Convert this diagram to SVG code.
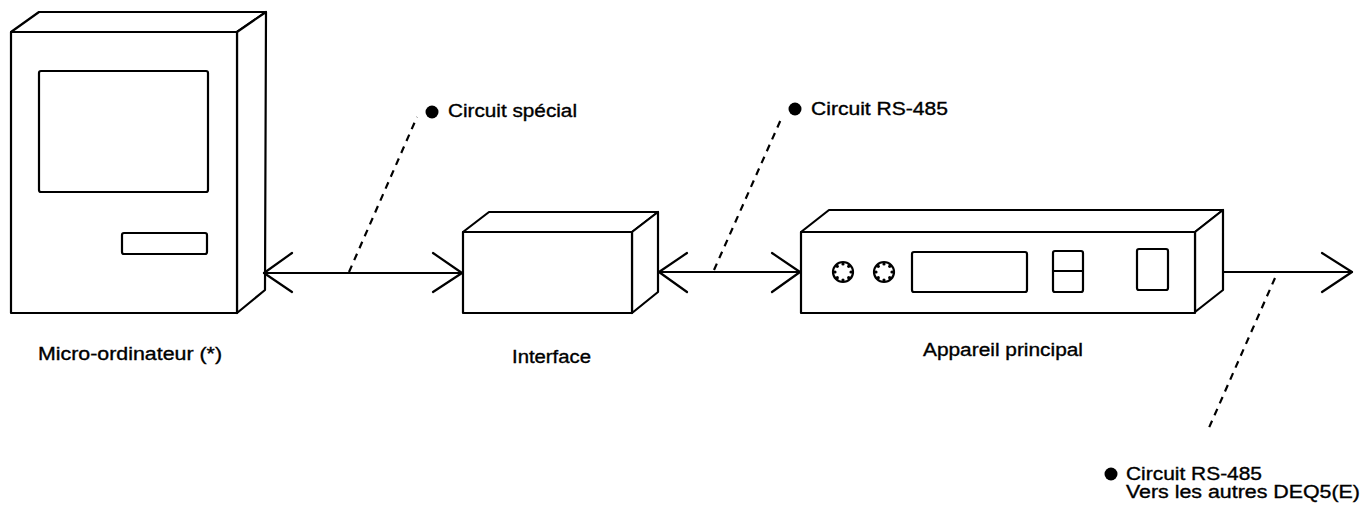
<svg xmlns="http://www.w3.org/2000/svg" width="1365" height="508" viewBox="0 0 1365 508">
  <style>
    .ln { fill: none; stroke: #000; stroke-width: 2.2; stroke-linejoin: round; stroke-linecap: round; }
    .face { fill: #fff; stroke: #000; stroke-width: 2.2; stroke-linejoin: round; }
    .dash { fill: none; stroke: #000; stroke-width: 2.2; stroke-dasharray: 7 6; }
    .lbl { font-family: "Liberation Sans", Arial, sans-serif; font-size: 18px; fill: #000; stroke: #000; stroke-width: 0.35; }
    .dot { fill: #000; }
  </style>
  <rect width="1365" height="508" fill="#fff"/>

  <!-- Micro-computer -->
  <g id="micro-ordinateur">
    <polygon class="face" points="11,32 39,12 266,12 237,32"/>
    <polygon class="face" points="237,32 266,12 265,290 237,313"/>
    <rect class="face" x="11" y="32" width="226" height="281"/>
    <rect class="face" x="39" y="71" width="169" height="121" rx="2"/>
    <rect class="face" x="122" y="233" width="85" height="21" rx="2"/>
    <text class="lbl" x="38" y="360" textLength="184" lengthAdjust="spacingAndGlyphs">Micro-ordinateur (*)</text>
  </g>

  <!-- Interface box -->
  <g id="interface">
    <polygon class="face" points="463,232 489,212 658,212 632,232"/>
    <polygon class="face" points="632,232 658,212 658,292 632,313"/>
    <rect class="face" x="463" y="232" width="169" height="81"/>
    <text class="lbl" x="512" y="363" textLength="79" lengthAdjust="spacingAndGlyphs">Interface</text>
  </g>

  <!-- Main unit -->
  <g id="appareil-principal">
    <polygon class="face" points="801,232 829,210 1223,210 1195,232"/>
    <polygon class="face" points="1195,232 1223,210 1223,290 1195,312"/>
    <rect class="face" x="801" y="232" width="394" height="81"/>
    <g id="knob-1">
      <circle class="face" cx="843" cy="272" r="10" stroke-width="2.5"/>
      <g class="dot">
        <circle cx="851" cy="272" r="1.6"/><circle cx="848.7" cy="277.7" r="1.6"/>
        <circle cx="843" cy="280" r="1.6"/><circle cx="837.3" cy="277.7" r="1.6"/>
        <circle cx="835" cy="272" r="1.6"/><circle cx="837.3" cy="266.3" r="1.6"/>
        <circle cx="843" cy="264" r="1.6"/><circle cx="848.7" cy="266.3" r="1.6"/>
      </g>
    </g>
    <g id="knob-2">
      <circle class="face" cx="884" cy="272" r="10" stroke-width="2.5"/>
      <g class="dot">
        <circle cx="892" cy="272" r="1.6"/><circle cx="889.7" cy="277.7" r="1.6"/>
        <circle cx="884" cy="280" r="1.6"/><circle cx="878.3" cy="277.7" r="1.6"/>
        <circle cx="876" cy="272" r="1.6"/><circle cx="878.3" cy="266.3" r="1.6"/>
        <circle cx="884" cy="264" r="1.6"/><circle cx="889.7" cy="266.3" r="1.6"/>
      </g>
    </g>
    <rect class="face" x="912" y="252" width="115" height="40" rx="2"/>
    <rect class="face" x="1053" y="251" width="30" height="41" rx="2"/>
    <line class="ln" x1="1053" y1="271" x2="1083" y2="271"/>
    <rect class="face" x="1137" y="249" width="31" height="41" rx="2"/>
    <text class="lbl" x="923" y="356" textLength="160" lengthAdjust="spacingAndGlyphs">Appareil principal</text>
  </g>

  <!-- Links between the units -->
  <g id="connectors">
    <line class="ln" x1="264" y1="273" x2="462" y2="273"/>
    <polyline class="ln" points="292,253 264,273 292,292"/>
    <polyline class="ln" points="433,253 462,273 433,292"/>

    <line class="ln" x1="659" y1="272" x2="800" y2="272"/>
    <polyline class="ln" points="687,253 659,272 687,292"/>
    <polyline class="ln" points="772,253 800,272 772,292"/>

    <line class="ln" x1="1223" y1="272" x2="1352" y2="272"/>
    <polyline class="ln" points="1322,253 1352,272 1322,292"/>
  </g>

  <!-- Circuit callouts -->
  <g id="callout-special">
    <line class="dash" x1="349" y1="272" x2="417" y2="117"/>
    <circle class="dot" cx="432" cy="112" r="6.5"/>
    <text class="lbl" x="448" y="117" textLength="129" lengthAdjust="spacingAndGlyphs">Circuit spécial</text>
  </g>
  <g id="callout-rs485">
    <line class="dash" x1="714" y1="270" x2="782" y2="117"/>
    <circle class="dot" cx="795" cy="109" r="6.5"/>
    <text class="lbl" x="811" y="115" textLength="137" lengthAdjust="spacingAndGlyphs">Circuit RS-485</text>
  </g>
  <g id="callout-other">
    <line class="dash" x1="1275" y1="278" x2="1208" y2="430"/>
    <circle class="dot" cx="1111" cy="474" r="6.5"/>
    <text class="lbl" x="1126" y="480" textLength="136" lengthAdjust="spacingAndGlyphs">Circuit RS-485</text>
    <text class="lbl" x="1126" y="498" textLength="234" lengthAdjust="spacingAndGlyphs">Vers les autres DEQ5(E)</text>
  </g>
</svg>
